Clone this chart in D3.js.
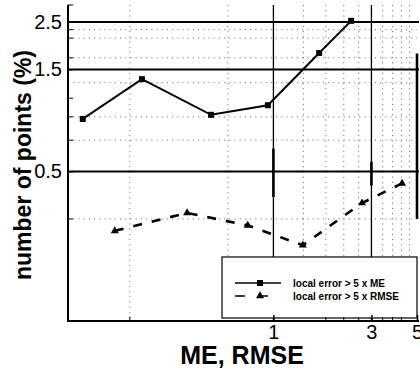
<!DOCTYPE html>
<html>
<head>
<meta charset="utf-8">
<script src="https://cdn.jsdelivr.net/npm/d3@7"></script>
<style>
  html, body { margin: 0; padding: 0; background: #fff; }
  svg { display: block; font-family: "Liberation Sans", Arial, Helvetica, sans-serif; }
</style>
</head>
<body>
<svg id="chart" width="420" height="369"></svg>
<script>
// Percentage of points whose local error exceeds 5x ME / 5x RMSE
const meX   = [0.118, 0.229, 0.497, 0.94, 1.67, 2.39];
const meY   = [0.88, 1.35, 0.92, 1.02, 1.79, 2.53];
const rmseX = [0.169, 0.38, 0.75, 1.39, 2.7, 4.23];
const rmseY = [0.264, 0.32, 0.28, 0.226, 0.356, 0.44];

// extra vertical range bars drawn on the grid
const barX  = [1, 3, 5];
const barLo = [0.38, 0.43, 0.30];
const barHi = [0.64, 0.555, 1.78];

// axis ticks and grid
const xTickLabels = [1, 3, 5];
const yTickLabels = [2.5, 1.5, 0.5];
const xMinorTicks = [0.2, 1.8, 2.2, 2.6, 3.4, 3.8, 4.2];
const yMinorTicks = [3, 2.3, 2.1, 1.7, 1.1, 0.9, 0.7, 0.3];
const xSolidGrid  = [1, 3];
const ySolidGrid  = [2.5, 1.5, 0.5];
const xDotGrid    = [0.2, 0.6, 1.4, 1.8, 2.2, 2.6, 3.4, 3.8, 4.2, 4.6];
const yDotGrid    = [2.3, 2.1, 1.7, 1.3, 0.9, 0.7, 0.3];

const seriesNames = ["local error > 5 x ME", "local error > 5 x RMSE"];

const svg = d3.select("#chart");
const plotL = 68, plotR = 417, plotT = 5, plotB = 321;

const x = d3.scaleLog().domain([0.1, 5]).range([plotL, plotR]);
const y = d3.scaleLog().domain([0.1, 3]).range([plotB, plotT]);

// dotted grid
const grid = svg.append("g");
grid.append("g").selectAll("line").data(xDotGrid).join("line")
  .attr("x1", d => x(d)).attr("x2", d => x(d))
  .attr("y1", plotT).attr("y2", plotB)
  .attr("stroke", "#777").attr("stroke-width", 1).attr("stroke-dasharray", "1.2,4");
grid.append("g").selectAll("line").data(yDotGrid).join("line")
  .attr("x1", plotL).attr("x2", plotR)
  .attr("y1", d => y(d)).attr("y2", d => y(d))
  .attr("stroke", "#777").attr("stroke-width", 1).attr("stroke-dasharray", "1.2,4");

// solid grid
grid.append("g").selectAll("line").data(xSolidGrid).join("line")
  .attr("x1", d => x(d)).attr("x2", d => x(d))
  .attr("y1", plotT).attr("y2", plotB)
  .attr("stroke", "#000").attr("stroke-width", 1.3);
grid.append("g").selectAll("line").data(ySolidGrid).join("line")
  .attr("x1", plotL).attr("x2", plotR + 2)
  .attr("y1", d => y(d)).attr("y2", d => y(d))
  .attr("stroke", "#000").attr("stroke-width", 2);

// range bars
svg.append("g").selectAll("line").data(barX).join("line")
  .attr("x1", d => x(d)).attr("x2", d => x(d))
  .attr("y1", (d, i) => y(barHi[i])).attr("y2", (d, i) => y(barLo[i]))
  .attr("stroke", "#000").attr("stroke-width", 2.6);

// series: ME (solid, squares)
const meData = meX.map((v, i) => [v, meY[i]]);
const rmseData = rmseX.map((v, i) => [v, rmseY[i]]);
const line = d3.line().x(d => x(d[0])).y(d => y(d[1]));

svg.append("path").datum(meData).attr("d", line)
  .attr("fill", "none").attr("stroke", "#000").attr("stroke-width", 2);
svg.append("g").selectAll("rect").data(meData).join("rect")
  .attr("x", d => x(d[0]) - 3).attr("y", d => y(d[1]) - 3)
  .attr("width", 6).attr("height", 6).attr("fill", "#000");

// series: RMSE (dashed, triangles)
svg.append("path").datum(rmseData).attr("d", line)
  .attr("fill", "none").attr("stroke", "#000").attr("stroke-width", 2.6)
  .attr("stroke-dasharray", "9,10");
const tri = d3.symbol().type(d3.symbolTriangle).size(28);
svg.append("g").selectAll("path").data(rmseData).join("path")
  .attr("d", tri)
  .attr("transform", d => `translate(${x(d[0])},${y(d[1])})`)
  .attr("fill", "#000");

// legend
const lg = svg.append("g");
lg.append("rect").attr("x", 222).attr("y", 257).attr("width", 195).attr("height", 61)
  .attr("fill", "#fff").attr("stroke", "#000").attr("stroke-width", 1.2);
const ly = [283, 296];
lg.append("line").attr("x1", 235).attr("x2", 281).attr("y1", ly[0]).attr("y2", ly[0])
  .attr("stroke", "#000").attr("stroke-width", 1.6);
lg.append("rect").attr("x", 257).attr("y", ly[0] - 3).attr("width", 6).attr("height", 6).attr("fill", "#000");
lg.append("line").attr("x1", 235).attr("x2", 281).attr("y1", ly[1]).attr("y2", ly[1])
  .attr("stroke", "#000").attr("stroke-width", 1.6).attr("stroke-dasharray", "10,13");
lg.append("path").attr("d", tri).attr("transform", `translate(260,${ly[1]})`).attr("fill", "#000");
lg.selectAll("text").data(seriesNames).join("text")
  .attr("x", 293).attr("y", (d, i) => ly[i] + 3.6)
  .attr("font-size", 10).attr("font-weight", "bold").text(d => d);

// axes
const xAxis = d3.axisBottom(x).tickValues(xTickLabels).tickSize(-6).tickPadding(4)
  .tickFormat(d3.format("d"));
const gx = svg.append("g").attr("transform", `translate(0,${plotB})`).call(xAxis);
gx.select(".domain").remove();
gx.selectAll(".tick line").attr("stroke-width", 1.5);
gx.selectAll("text").attr("font-size", 20).attr("font-family", "Liberation Sans, Arial, sans-serif").attr("fill", "#000");
gx.append("g").selectAll("line").data(xMinorTicks).join("line")
  .attr("x1", d => x(d)).attr("x2", d => x(d)).attr("y1", 0).attr("y2", -4)
  .attr("stroke", "#000").attr("stroke-width", 1);

const yAxis = d3.axisLeft(y).tickValues(yTickLabels).tickSize(-5).tickPadding(6)
  .tickFormat(d3.format(".1f"));
const gy = svg.append("g").attr("transform", `translate(${plotL},0)`).call(yAxis);
gy.select(".domain").remove();
gy.selectAll("text").attr("font-size", 20).attr("font-family", "Liberation Sans, Arial, sans-serif").attr("fill", "#000");
gy.append("g").selectAll("line").data(yMinorTicks).join("line")
  .attr("x1", 0).attr("x2", 5).attr("y1", d => y(d)).attr("y2", d => y(d))
  .attr("stroke", "#000").attr("stroke-width", 1);

// axis lines
svg.append("line").attr("x1", plotL).attr("x2", plotL).attr("y1", plotT).attr("y2", plotB + 1)
  .attr("stroke", "#000").attr("stroke-width", 2);
svg.append("line").attr("x1", plotL - 1).attr("x2", plotR + 2).attr("y1", plotB).attr("y2", plotB)
  .attr("stroke", "#000").attr("stroke-width", 2);

// axis titles
svg.append("text").attr("x", 242).attr("y", 364).attr("text-anchor", "middle")
  .attr("font-size", 25).attr("font-weight", "bold").text("ME, RMSE");
svg.append("text").attr("transform", "translate(31,165) rotate(-90)")
  .attr("text-anchor", "middle").attr("font-size", 23).attr("font-weight", "bold")
  .text("number of points (%)");
</script>
</body>
</html>
